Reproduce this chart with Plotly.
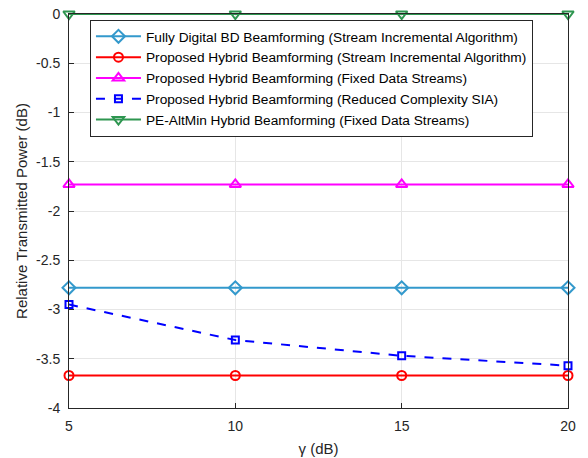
import plotly.graph_objects as go

gamma = [5, 10, 15, 20]
fully_digital = [-2.78, -2.78, -2.78, -2.78]
hybrid_sia = [-3.67, -3.67, -3.67, -3.67]
hybrid_fixed = [-1.73, -1.73, -1.73, -1.73]
hybrid_reduced = [-2.95, -3.31, -3.47, -3.57]
pe_altmin = [0, 0, 0, 0]

names = [
    "Fully Digital BD Beamforming (Stream Incremental Algorithm)",
    "Proposed Hybrid Beamforming (Stream Incremental Algorithm)",
    "Proposed Hybrid Beamforming (Fixed Data Streams)",
    "Proposed Hybrid Beamforming (Reduced Complexity SIA)",
    "PE-AltMin Hybrid Beamforming (Fixed Data Streams)",
]
series = [fully_digital, hybrid_sia, hybrid_fixed, hybrid_reduced, pe_altmin]
colors = ["#3399CC", "#FF0000", "#FF00FF", "#0000FF", "#2E9650"]
symbols = ["diamond-open", "circle-open", "triangle-up-open", "square-open", "triangle-down-open"]
dashes = ["solid", "solid", "solid", "dash", "solid"]
msizes = [10, 9, 10, 7, 10]

fig = go.Figure()
for n, y, c, s, d, ms in zip(names, series, colors, symbols, dashes, msizes):
    fig.add_trace(go.Scatter(
        x=gamma, y=y, name=n, mode="lines+markers",
        line=dict(color=c, width=2, dash=d),
        marker=dict(symbol=s, size=ms, color=c, line=dict(color=c, width=2)),
        cliponaxis=False,
    ))

axis_common = dict(
    showline=True, linecolor="#262626", linewidth=1, mirror=True,
    ticks="inside", ticklen=5, tickcolor="#262626",
    showgrid=True, gridcolor="#E6E6E6", gridwidth=1, zeroline=False,
    tickfont=dict(family="Liberation Sans, Arial", size=14, color="#262626"),
    automargin=False,
)

fig.update_layout(
    width=588, height=458,
    margin=dict(l=69, r=20, t=14, b=50),
    plot_bgcolor="white", paper_bgcolor="white",
    font=dict(family="Liberation Sans, Arial", size=14, color="#262626"),
    xaxis=dict(range=[5, 20], tickvals=[5, 10, 15, 20], ticklabelstandoff=5,
               title=dict(text="γ (dB)", font=dict(size=15), standoff=10), **axis_common),
    yaxis=dict(range=[-4, 0], tickvals=[0, -0.5, -1, -1.5, -2, -2.5, -3, -3.5, -4],
               ticktext=["0", "-0.5", "-1", "-1.5", "-2", "-2.5", "-3", "-3.5", "-4"],
               ticklabelstandoff=5,
               title=dict(text="Relative Transmitted Power (dB)", font=dict(size=15), standoff=4),
               **axis_common),
    legend=dict(
        x=0.042, y=0.985, xanchor="left", yanchor="top",
        bgcolor="white", bordercolor="#262626", borderwidth=1,
        font=dict(family="Liberation Sans, Arial", size=13.7, color="#000000"),
        itemwidth=45, tracegroupgap=0,
    ),
    showlegend=True,
)

fig.write_html("out.html")
